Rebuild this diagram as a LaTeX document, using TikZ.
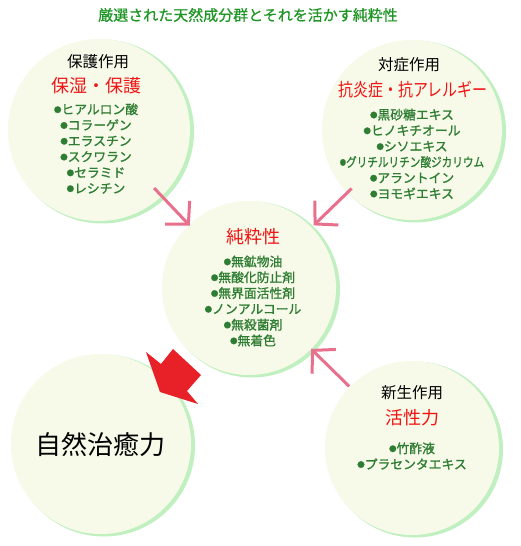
\documentclass[tikz,border=0pt]{standalone}
\usepackage{fontspec}
\usepackage{graphicx}
\setmainfont{Noto Sans CJK JP}
\newfontfamily\jpbul{Noto Sans CJK JP}[FakeBold=1.2]
\newfontfamily\jptitle{Noto Sans CJK JP}[FakeBold=0.6]
\usetikzlibrary{arrows.meta}
\definecolor{titlegreen}{RGB}{30,150,36}
\definecolor{bulgreen}{RGB}{46,125,50}
\definecolor{headred}{RGB}{240,20,20}
\definecolor{pinkarr}{RGB}{232,112,140}
\definecolor{blockred}{RGB}{232,32,40}
\definecolor{circfill}{RGB}{247,250,233}
\definecolor{circedge}{RGB}{192,240,192}
\newcommand{\bl}{\raisebox{1.6pt}{\fontsize{7.5}{7.5}\selectfont ●}}
\begin{document}
\begin{tikzpicture}[x=1pt,y=-1pt,
  circ/.style={circle, fill=circfill, inner sep=0, minimum size=#1},
  circshadow/.style={circle, fill=circedge, inner sep=0, minimum size=#1},
  cat/.style={font=\fontsize{15.5}{18}\selectfont, text=black, inner sep=0},
  head/.style={font=\fontsize{18}{22}\selectfont, text=headred, inner sep=0},
  items/.style={align=center, text=bulgreen, font=\jpbul\fontsize{12.8}{15.8}\selectfont, inner sep=0},
  pinkarrow/.style={draw=pinkarr, line width=3pt, -{Straight Barb[length=16pt,width=34pt]}},
]
\useasboundingbox (0,0) rectangle (520,546);
\fill[white] (0,0) rectangle (520,546);

% title
\node[text=titlegreen, font=\jptitle\fontsize{15}{18}\selectfont, inner sep=0] (title) at (248,15) {厳選された天然成分群とそれを活かす純粋性};

% circles (shadow edge + fill)
\node[circshadow=184pt] (tls) at (102,131.5) {};
\node[circ=182pt] (tl) at (99,130) {};
\node[circshadow=182pt] (trs) at (415,131.5) {};
\node[circ=180pt] (tr) at (412,130) {};
\node[circshadow=176pt] (cs) at (252,289.5) {};
\node[circ=174pt] (c) at (249,288) {};
\node[circshadow=182pt] (bls) at (104,445.5) {};
\node[circ=180pt] (bl) at (101,444) {};
\node[circshadow=176pt] (brs) at (415,449.5) {};
\node[circ=174pt] (br) at (412,448) {};

% top-left
\node[cat] (tlcat) at (98,62) {保護作用};
\node[head] (tlhead) at (96,86) {保湿・保護};
\node[items] (tlitems) at (96,148.5) {\bl ヒアルロン酸\\ \bl コラーゲン\\ \bl エラスチン\\ \bl スクワラン\\ \bl セラミド\\ \bl レシチン};

% top-right
\node[cat] (trcat) at (409,65) {対症作用};
\node[head] (trhead) at (413,90) {\scalebox{0.83}[1]{抗炎症・抗アレルギー}};
\node[items] (tritems) at (412,154) {\bl 黒砂糖エキス\\ \bl ヒノキチオール\\ \bl シソエキス\\ \scalebox{0.83}[1]{\bl グリチルリチン酸ジカリウム}\\ \bl アラントイン\\ \bl ヨモギエキス};

% center
\node[head] (chead) at (253,237) {純粋性};
\node[items] (citems) at (253,301) {\bl 無鉱物油\\ \bl 無酸化防止剤\\ \bl 無界面活性剤\\ \bl ノンアルコール\\ \bl 無殺菌剤\\ \bl 無着色};

% bottom-left
\node[font=\fontsize{26}{30}\selectfont, text=black, inner sep=0] (blhead) at (100,445) {自然治癒力};

% bottom-right
\node[cat] (brcat) at (412,393) {新生作用};
\node[head] (brhead) at (412,418) {活性力};
\node[items] (britems) at (412,456) {\bl 竹酢液\\ \bl プラセンタエキス};

% pink arrows
\draw[pinkarrow, shorten <=80pt, shorten >=86pt] (tl.center) -- (c.center);
\draw[pinkarrow, shorten <=84pt, shorten >=90pt] (tr.center) -- (c.center);
\draw[pinkarrow, shorten <=88pt, shorten >=87pt] (br.center) -- (c.center);

% red block arrow
\fill[blockred] (146,352) -- (161,364) -- (173,349) -- (201,375) -- (187,391) -- (198,404) -- (160,392) -- cycle;
\end{tikzpicture}
\end{document}
